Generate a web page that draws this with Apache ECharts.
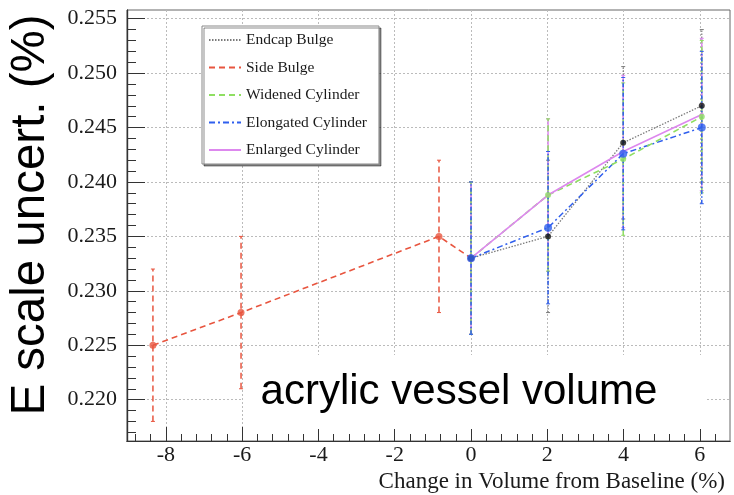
<!DOCTYPE html>
<html>
<head>
<meta charset="utf-8">
<script src="https://cdn.jsdelivr.net/npm/echarts@6/dist/echarts.min.js"></script>
<style>html,body{margin:0;padding:0;background:#fff}#c{width:734px;height:495px}</style>
</head>
<body>
<div id="c"></div>
<script>
// ---- data ----
const seriesNames = ['Endcap Bulge', 'Side Bulge', 'Widened Cylinder', 'Elongated Cylinder', 'Enlarged Cylinder'];
const xSide = [-8.34, -6.03, -0.84, 0];
const ySide = [0.225, 0.228, 0.235, 0.233];
const eSide = [0.007, 0.007, 0.007, 0.007];
const xCyl = [0, 2.02, 3.99, 6.05];
const yEndcap = [0.233, 0.235, 0.2436, 0.247];
const yWidened = [0.233, 0.2388, 0.2421, 0.246];
const yElongated = [0.233, 0.2358, 0.2426, 0.245];
const yEnlarged = [0.233, 0.2388, 0.2428, 0.2462];
const eEndcap = [0.007, 0.007, 0.007, 0.007];
const eWidened = [0.007, 0.007, 0.007, 0.007];
const eElongated = [0.007, 0.007, 0.007, 0.007];
const eEnlarged = [0.007, 0.007, 0.007, 0.007];
const xTicks = [-8, -6, -4, -2, 0, 2, 4, 6];
const yTicks = [0.220, 0.225, 0.230, 0.235, 0.240, 0.245, 0.250, 0.255];
const xTickLabels = ['-8', '-6', '-4', '-2', '0', '2', '4', '6'];
const yTickLabels = ['0.220', '0.225', '0.230', '0.235', '0.240', '0.245', '0.250', '0.255'];
const yTitle = 'E scale uncert. (%)';
const xTitle = 'Change in Volume from Baseline (%)';
const note = 'acrylic vessel volume';

const C = {
  endcap: '#7a7a7a', endcapPt: '#111111',
  side: '#e8553f',
  widened: '#8fdf62',
  elongated: '#2f5fee',
  enlarged: '#dd88ee'
};

function pts(xs, ys) { return xs.map((x, i) => [x, ys[i]]); }
function errs(xs, ys, es) { return xs.map((x, i) => [x, ys[i] - es[i], ys[i] + es[i]]); }
function minors(ticks, step, n, lo, hi) {
  const out = [];
  const first = ticks[0] - step, last = ticks[ticks.length - 1] + step;
  for (let t = first; t <= last + 1e-12; t += step) {
    for (let k = 1; k < n; k++) {
      const v = +(t + k * step / n).toFixed(8);
      if (v > lo && v < hi) out.push(v);
    }
  }
  return out;
}

function errSeries(name, xs, ys, es, color, dash, width) {
  return {
    type: 'custom', name: name + ' err', data: errs(xs, ys, es), z: 3,
    encode: { x: 0, y: [1, 2] },
    renderItem: function (params, api) {
      const x = api.value(0);
      const lo = api.coord([x, api.value(1)]);
      const hi = api.coord([x, api.value(2)]);
      const style = { stroke: color, lineWidth: width, lineDash: dash, fill: null };
      return {
        type: 'group',
        children: [
          { type: 'line', shape: { x1: lo[0], y1: lo[1], x2: hi[0], y2: hi[1] }, style: style },
          { type: 'line', shape: { x1: lo[0] - 2, y1: lo[1], x2: lo[0] + 2, y2: lo[1] }, style: { stroke: color, lineWidth: 1 } },
          { type: 'line', shape: { x1: hi[0] - 2, y1: hi[1], x2: hi[0] + 2, y2: hi[1] }, style: { stroke: color, lineWidth: 1 } }
        ]
      };
    }
  };
}
function lineSeries(name, xs, ys, color, dash, width) {
  return {
    type: 'line', name: name, data: pts(xs, ys), symbol: 'none', z: 4,
    lineStyle: { color: color, width: width, type: dash },
    itemStyle: { color: color }
  };
}
function ptSeries(name, xs, ys, color, size) {
  return {
    type: 'scatter', name: name + ' pts', data: pts(xs, ys), symbol: 'circle', symbolSize: size, z: 5,
    itemStyle: { color: color }
  };
}

const XMIN = -9.02, XMAX = 6.79, YMIN = 0.2162, YMAX = 0.2558;
const chart = echarts.init(document.getElementById('c'), null, { renderer: 'canvas' });
const serif = '"Liberation Serif", "Times New Roman", serif';
const axisCommon = { type: 'value', axisLine: { onZero: false, lineStyle: { color: '#333', width: 1.2 } }, axisLabel: { show: false } };
const baseGraphics = [
  { type: 'rect', left: 243, top: 355, shape: { width: 464, height: 74 }, style: { fill: '#fff' }, z: 1 },
  { type: 'text', x: 459, y: 392, z: 1, style: { text: note, font: '42px "Liberation Sans", Arial, sans-serif', fill: '#000', textAlign: 'center', textVerticalAlign: 'middle' } },
  { type: 'text', x: 31, y: 215, rotation: Math.PI / 2, z: 1, style: { text: yTitle, font: '47.5px "Liberation Sans", Arial, sans-serif', fill: '#000', textAlign: 'center', textVerticalAlign: 'middle' } },
  { type: 'text', x: 725, y: 482, z: 1, style: { text: xTitle, font: '23px ' + serif, fill: '#1a1a1a', textAlign: 'right', textVerticalAlign: 'middle' } }
];
const option = {
  animation: false,
  backgroundColor: '#fff',
  grid: { left: 127, top: 10, right: 4, bottom: 54, show: true, borderColor: '#666', borderWidth: 1, backgroundColor: 'transparent' },
  xAxis: [
    Object.assign({}, axisCommon, {
      min: XMIN, max: XMAX,
      axisTick: { inside: true, length: 14, customValues: xTicks, lineStyle: { color: '#333' } },
      splitLine: { show: true, lineStyle: { color: '#bbb', type: [2, 2], width: 1 } }
    }),
    Object.assign({}, axisCommon, {
      min: XMIN, max: XMAX, position: 'bottom',
      axisTick: { inside: true, length: 7, customValues: minors(xTicks, 2, 5, XMIN, XMAX), lineStyle: { color: '#333' } },
      splitLine: { show: false }
    })
  ],
  yAxis: [
    Object.assign({}, axisCommon, {
      min: YMIN, max: YMAX,
      axisTick: { inside: true, length: 18, customValues: yTicks, lineStyle: { color: '#333' } },
      splitLine: { show: true, lineStyle: { color: '#bbb', type: [2, 2], width: 1 } }
    }),
    Object.assign({}, axisCommon, {
      min: YMIN, max: YMAX, position: 'left',
      axisTick: { inside: true, length: 9, customValues: minors(yTicks, 0.005, 5, YMIN, YMAX), lineStyle: { color: '#333' } },
      splitLine: { show: false }
    })
  ],
  legend: {
    orient: 'vertical', left: 202, top: 26,
    data: seriesNames,
    itemWidth: 32, itemHeight: 16, itemGap: 11.5,
    padding: [6, 12, 6, 6],
    backgroundColor: '#fff', borderColor: '#888', borderWidth: 1,
    shadowColor: 'rgba(0,0,0,0.45)', shadowOffsetX: 2, shadowOffsetY: 2, shadowBlur: 0,
    itemStyle: { opacity: 0 },
    textStyle: { fontFamily: serif, fontSize: 15.5, color: '#1a1a1a', lineHeight: 16 },
    selectedMode: false
  },
  graphic: baseGraphics,
  series: [
    errSeries('Side Bulge', xSide, ySide, eSide, C.side, [6, 4], 1.5),
    errSeries('Endcap Bulge', xCyl, yEndcap, eEndcap, C.endcap, [1.5, 1.5], 1.2),
    errSeries('Enlarged Cylinder', xCyl, yEnlarged, eEnlarged, C.enlarged, null, 1.5),
    errSeries('Widened Cylinder', xCyl, yWidened, eWidened, C.widened, [6, 4], 1.5),
    errSeries('Elongated Cylinder', xCyl, yElongated, eElongated, C.elongated, [4, 2, 1.5, 2], 1.5),
    lineSeries('Side Bulge', xSide, ySide, C.side, [6, 4], 1.6),
    lineSeries('Endcap Bulge', xCyl, yEndcap, C.endcap, [1.5, 1.5], 1.3),
    lineSeries('Elongated Cylinder', xCyl, yElongated, C.elongated, [6, 3, 2, 3], 1.5),
    lineSeries('Widened Cylinder', xCyl, yWidened, C.widened, [6, 4], 1.6),
    lineSeries('Enlarged Cylinder', xCyl, yEnlarged, C.enlarged, 'solid', 1.6),
    ptSeries('Side Bulge', xSide, ySide, C.side, 7),
    ptSeries('Enlarged Cylinder', xCyl, yEnlarged, C.enlarged, 4),
    ptSeries('Widened Cylinder', xCyl, yWidened, C.widened, 6),
    ptSeries('Endcap Bulge', xCyl, yEndcap, C.endcapPt, 6),
    ptSeries('Elongated Cylinder', xCyl, yElongated, C.elongated, 8)
  ]
};
chart.setOption(option);

// tick labels placed through the axes' own scales
const labelGraphics = [];
xTicks.forEach((v, i) => {
  const px = chart.convertToPixel({ xAxisIndex: 0 }, v);
  labelGraphics.push({ type: 'text', x: px, y: 455, z: 1,
    style: { text: xTickLabels[i], font: '22px ' + serif, fill: '#1a1a1a', textAlign: 'center', textVerticalAlign: 'middle' } });
});
yTicks.forEach((v, i) => {
  const py = chart.convertToPixel({ yAxisIndex: 0 }, v);
  labelGraphics.push({ type: 'text', x: 117, y: py, z: 1,
    style: { text: yTickLabels[i], font: '22px ' + serif, fill: '#1a1a1a', textAlign: 'right', textVerticalAlign: 'middle' } });
});
chart.setOption({ graphic: baseGraphics.concat(labelGraphics) });
</script>
</body>
</html>
